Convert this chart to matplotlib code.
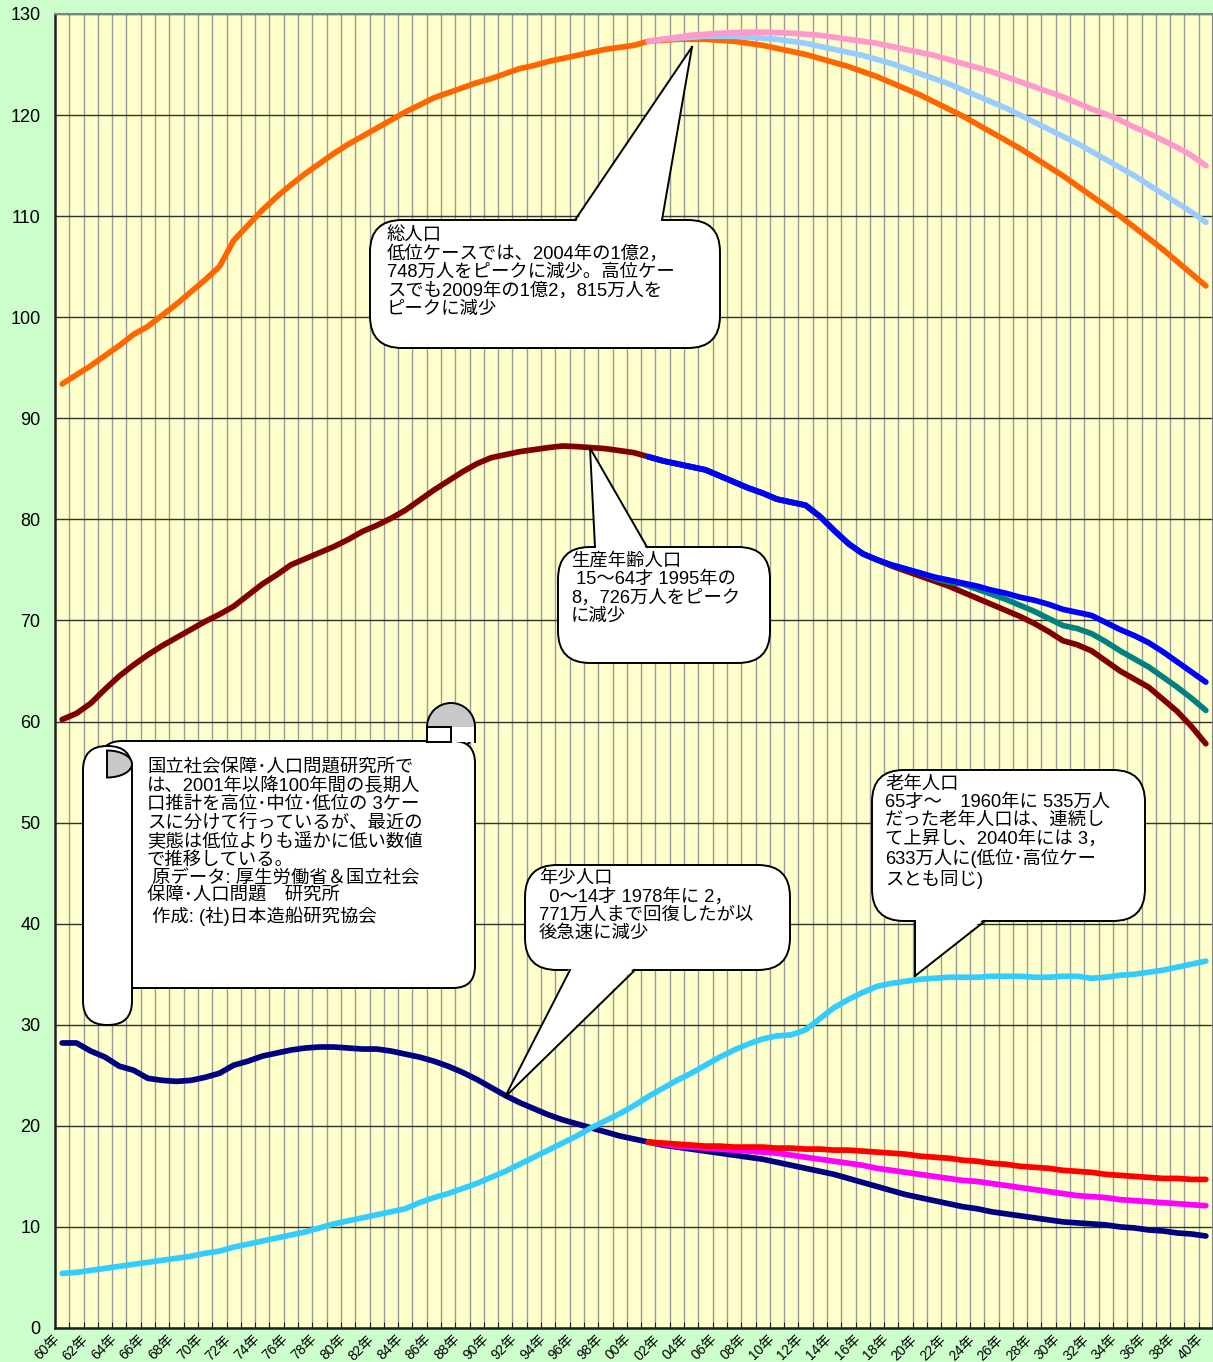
import matplotlib
matplotlib.use("Agg")
import numpy as np
import matplotlib.pyplot as plt
from matplotlib.patches import FancyBboxPatch, Polygon, Circle, Rectangle
from matplotlib.lines import Line2D
from matplotlib.transforms import Affine2D, ScaledTranslation

plt.rcParams['font.family'] = ['Liberation Sans', 'Noto Sans CJK JP', 'DejaVu Sans']

# ---------------- data (million persons) ----------------
years = list(range(1960, 2041))
actual_years = list(range(1960, 2002))
proj_years = list(range(2001, 2041))
tick_years = list(range(1960, 2041, 2))
tick_labels = [f"{y % 100:02d}年" for y in tick_years]

total_actual = [93.4, 94.3, 95.2, 96.2, 97.2, 98.3, 99.1, 100.2, 101.3, 102.5,
                103.7, 105.0, 107.6, 109.1, 110.6, 111.9, 113.1, 114.2, 115.2, 116.2,
                117.1, 117.9, 118.7, 119.5, 120.3, 121.0, 121.7, 122.2, 122.7, 123.2,
                123.6, 124.1, 124.6, 124.9, 125.3, 125.6, 125.9, 126.2, 126.5, 126.7,
                126.9, 127.3]
total_low = [127.3, 127.4, 127.5, 127.5, 127.5, 127.4, 127.3, 127.1, 126.9, 126.6,
             126.3, 126.0, 125.6, 125.2, 124.8, 124.3, 123.8, 123.2, 122.6, 122.0,
             121.3, 120.6, 119.9, 119.1, 118.3, 117.5, 116.7, 115.8, 114.9, 114.0,
             113.0, 112.0, 111.0, 110.0, 108.9, 107.8, 106.7, 105.5, 104.3, 103.1]
total_mid = [127.3, 127.5, 127.6, 127.7, 127.8, 127.8, 127.8, 127.7, 127.6, 127.5,
             127.3, 127.1, 126.8, 126.5, 126.2, 125.9, 125.5, 125.1, 124.6, 124.1,
             123.6, 123.1, 122.5, 121.9, 121.3, 120.7, 120.0, 119.3, 118.6, 117.9,
             117.2, 116.4, 115.6, 114.8, 114.0, 113.1, 112.2, 111.3, 110.4, 109.4]
total_high = [127.3, 127.5, 127.7, 127.9, 128.0, 128.1, 128.15, 128.2, 128.2, 128.15,
              128.1, 128.0, 127.9, 127.7, 127.5, 127.3, 127.1, 126.8, 126.5, 126.2,
              125.9, 125.5, 125.1, 124.7, 124.3, 123.8, 123.3, 122.8, 122.3, 121.8,
              121.2, 120.6, 120.1, 119.5, 118.8, 118.2, 117.5, 116.8, 116.0, 115.0]

working_actual = [60.2, 60.8, 61.8, 63.2, 64.5, 65.6, 66.6, 67.5, 68.3, 69.1,
                  69.9, 70.6, 71.4, 72.5, 73.6, 74.5, 75.5, 76.1, 76.7, 77.3,
                  78.0, 78.8, 79.4, 80.1, 80.9, 81.9, 82.9, 83.8, 84.7, 85.5,
                  86.1, 86.4, 86.7, 86.9, 87.1, 87.26, 87.2, 87.1, 87.0, 86.8,
                  86.6, 86.2]
working_high = [86.2, 85.8, 85.5, 85.2, 84.9, 84.3, 83.7, 83.1, 82.6, 82.0,
                81.7, 81.4, 80.3, 78.9, 77.6, 76.6, 76.0, 75.5, 75.1, 74.7,
                74.3, 74.0, 73.7, 73.4, 73.0, 72.7, 72.3, 72.0, 71.6, 71.1,
                70.8, 70.5, 69.8, 69.1, 68.5, 67.8, 66.9, 65.9, 64.9, 63.9]
working_mid = [86.2, 85.8, 85.5, 85.2, 84.9, 84.3, 83.7, 83.1, 82.6, 82.0,
               81.7, 81.4, 80.3, 78.9, 77.6, 76.6, 76.0, 75.5, 75.1, 74.7,
               74.2, 73.8, 73.6, 73.1, 72.6, 72.1, 71.5, 70.9, 70.2, 69.5,
               69.2, 68.7, 67.9, 67.0, 66.2, 65.4, 64.4, 63.4, 62.3, 61.1]
working_low = [86.2, 85.8, 85.5, 85.2, 84.9, 84.3, 83.7, 83.1, 82.6, 82.0,
               81.7, 81.4, 80.3, 78.9, 77.6, 76.6, 76.0, 75.4, 74.9, 74.4,
               73.9, 73.4, 72.8, 72.2, 71.6, 71.0, 70.4, 69.7, 68.9, 68.0,
               67.6, 67.0, 66.0, 65.0, 64.2, 63.4, 62.2, 61.0, 59.5, 57.8]

youth_actual = [28.2, 28.2, 27.4, 26.8, 25.9, 25.5, 24.7, 24.5, 24.4, 24.5,
                24.8, 25.2, 26.0, 26.4, 26.9, 27.2, 27.5, 27.7, 27.8, 27.8,
                27.7, 27.6, 27.6, 27.4, 27.1, 26.8, 26.4, 25.9, 25.3, 24.6,
                23.8, 23.0, 22.3, 21.7, 21.1, 20.6, 20.2, 19.8, 19.4, 19.0,
                18.7, 18.4]
youth_high = [18.4, 18.3, 18.2, 18.1, 18.0, 18.0, 17.9, 17.9, 17.9, 17.8,
              17.8, 17.7, 17.7, 17.6, 17.6, 17.5, 17.4, 17.3, 17.2, 17.0,
              16.9, 16.8, 16.6, 16.5, 16.3, 16.2, 16.0, 15.9, 15.8, 15.6,
              15.5, 15.4, 15.2, 15.1, 15.0, 14.9, 14.8, 14.8, 14.7, 14.7]
youth_mid = [18.4, 18.2, 18.0, 17.9, 17.8, 17.7, 17.6, 17.5, 17.4, 17.3,
             17.1, 16.9, 16.7, 16.5, 16.3, 16.1, 15.8, 15.6, 15.4, 15.2,
             15.0, 14.8, 14.6, 14.5, 14.3, 14.1, 13.9, 13.7, 13.5, 13.3,
             13.1, 13.0, 12.9, 12.7, 12.6, 12.5, 12.4, 12.3, 12.2, 12.1]
youth_low = [18.4, 18.1, 17.9, 17.7, 17.5, 17.3, 17.1, 16.9, 16.7, 16.4,
             16.1, 15.8, 15.5, 15.2, 14.8, 14.4, 14.0, 13.6, 13.2, 12.9,
             12.6, 12.3, 12.0, 11.8, 11.5, 11.3, 11.1, 10.9, 10.7, 10.5,
             10.4, 10.3, 10.2, 10.0, 9.9, 9.7, 9.6, 9.4, 9.3, 9.1]

elderly = [5.4, 5.5, 5.7, 5.9, 6.1, 6.3, 6.5, 6.7, 6.9, 7.1,
           7.4, 7.6, 8.0, 8.3, 8.6, 8.9, 9.2, 9.5, 9.9, 10.3,
           10.6, 10.9, 11.2, 11.5, 11.8, 12.4, 12.9, 13.3, 13.8, 14.3,
           14.9, 15.5, 16.2, 16.9, 17.6, 18.3, 19.0, 19.8, 20.5, 21.2,
           22.0, 22.9, 23.7, 24.5, 25.2, 26.0, 26.8, 27.5, 28.1, 28.6,
           28.9, 29.0, 29.5, 30.6, 31.7, 32.5, 33.2, 33.8, 34.1, 34.3,
           34.5, 34.6, 34.7, 34.7, 34.7, 34.8, 34.8, 34.8, 34.7, 34.7,
           34.8, 34.8, 34.6, 34.7, 34.9, 35.0, 35.2, 35.4, 35.7, 36.0,
           36.3]

# ---------------- figure ----------------
W, H = 1213, 1362
fig = plt.figure(figsize=(W / 100, H / 100), dpi=100)
fig.patch.set_facecolor('#CCFFCC')
ax = fig.add_axes([55 / W, 1 - 1328 / H, (1213 - 55) / W, (1328 - 14) / H])
ax.set_facecolor('#FFFFCC')

def xi(yrs):
    return [y - 1960 for y in yrs]

lw = 4.1
series = [
    (actual_years, total_actual, '#FF6600'),
    (proj_years, total_low, '#FF6600'),
    (proj_years, total_mid, '#99CCFF'),
    (proj_years, total_high, '#FF99CC'),
    (actual_years, working_actual, '#800000'),
    (proj_years, working_low, '#800000'),
    (proj_years, working_mid, '#008080'),
    (proj_years, working_high, '#0000FF'),
    (actual_years, youth_actual, '#000080'),
    (proj_years, youth_low, '#000080'),
    (proj_years, youth_mid, '#FF00FF'),
    (proj_years, youth_high, '#FF0000'),
    (years, elderly, '#33CCFF'),
]
for xs, ys, c in series:
    ax.plot(xi(xs), ys, color=c, lw=lw, solid_capstyle='round', solid_joinstyle='round', zorder=3)

ax.set_xlim(-0.5, len(years) - 0.5)
ax.set_ylim(0, 130)
ax.set_yticks(range(0, 131, 10))
ax.set_yticklabels([str(v) for v in range(0, 131, 10)], fontsize=13, family='Liberation Sans')
ax.set_xticks(xi(tick_years))
ax.set_xticks([k + 0.5 for k in range(len(years) - 1)], minor=True)
ax.set_xticklabels(tick_labels, rotation=45, ha='right', va='top', fontsize=10)
for lab in ax.get_xticklabels():
    lab.set_transform(lab.get_transform() + ScaledTranslation(-5 / 100, 0, fig.dpi_scale_trans))
ax.tick_params(axis='x', which='major', length=0, pad=3)
ax.tick_params(axis='x', which='minor', length=4, direction='in', color='black')
ax.tick_params(axis='y', length=0, pad=10.5)
ax.grid(axis='x', which='minor', color='#9A9A9A', lw=1.0, zorder=1)
ax.grid(axis='y', which='major', color='#303030', lw=1.0, zorder=1)
ax.set_axisbelow(True)
for s in ['left', 'bottom']:
    ax.spines[s].set_color('#202020')
    ax.spines[s].set_linewidth(1.8)
for s in ['top', 'right']:
    ax.spines[s].set_color('#808080')
    ax.spines[s].set_linewidth(1.5)

# ---------------- annotations (pixel coordinates, y downward) ----------------
PX = Affine2D().scale(1, -1).translate(0, H)
FS = 13.2
LS = 1.08
ELW = 1.4

def callout(x0, y0, x1, y1, base, tip, text, tx, ty, fs=FS):
    box = FancyBboxPatch((x0, y0), x1 - x0, y1 - y0,
                         boxstyle="round,pad=0,rounding_size=32",
                         fc='white', ec='black', lw=ELW, transform=PX, zorder=5)
    fig.add_artist(box)
    (bx0, by0), (bx1, by1) = base
    inward = 3 if by0 == y0 else -3
    wedge = Polygon([(bx0, by0 + inward), tip, (bx1, by1 + inward)], closed=True,
                    fc='white', ec='none', transform=PX, zorder=6)
    fig.add_artist(wedge)
    fig.add_artist(Line2D([bx0, tip[0]], [by0, tip[1]], color='black', lw=ELW, transform=PX, zorder=7))
    fig.add_artist(Line2D([bx1, tip[0]], [by1, tip[1]], color='black', lw=ELW, transform=PX, zorder=7))
    fig.text(tx, ty, text, transform=PX, fontsize=fs, va='top', ha='left',
             linespacing=LS, zorder=8)

callout(370, 220, 720, 348, ((575, 220), (662, 220)), (692, 47),
        "総人口\n低位ケースでは、2004年の1億2，\n748万人をピークに減少。高位ケー\nスでも2009年の1億2，815万人を\nピークに減少",
        387, 227)
callout(558, 547, 770, 663, ((595, 547), (647, 547)), (590, 448),
        "生産年齢人口\n 15～64才 1995年の\n8，726万人をピーク\nに減少",
        571, 553)
callout(525, 865, 790, 970, ((570, 970), (635, 970)), (505, 1097),
        "年少人口\n  0～14才 1978年に 2，\n771万人まで回復したが以\n後急速に減少",
        539, 870)
callout(872, 770, 1145, 921, ((915, 921), (985, 921)), (915, 976),
        "老年人口\n65才～　1960年に 535万人\nだった老年人口は、連続し\nて上昇し、2040年には 3，\n633万人に(低位･高位ケー\nスとも同じ)",
        885, 776)

# scroll note
ec = 'black'
GRAY = '#C8C8C8'
fig.add_artist(Circle((451, 727), 24, fc=GRAY, ec=ec, lw=ELW, transform=PX, zorder=5))
fig.add_artist(FancyBboxPatch((100, 741), 375, 247, boxstyle="round,pad=0,rounding_size=22",
                              fc='white', ec=ec, lw=ELW, transform=PX, zorder=5))
fig.add_artist(Rectangle((451, 727), 23.3, 15, fc='white', ec='none', transform=PX, zorder=5.5))
fig.add_artist(Rectangle((427, 727), 24, 15, fc='white', ec=ec, lw=ELW, transform=PX, zorder=5.6))
fig.add_artist(Line2D([475, 475], [727, 742], color=ec, lw=ELW, transform=PX, zorder=5.7))
fig.add_artist(FancyBboxPatch((83, 746), 49, 279, boxstyle="round,pad=0,rounding_size=24",
                              fc='white', ec=ec, lw=ELW, transform=PX, zorder=6))
t = np.linspace(-np.pi / 2, np.pi / 2, 40)
dpts = [(107 + 25 * np.cos(a), 764 + 13.5 * np.sin(a)) for a in t]
fig.add_artist(Polygon(dpts, closed=True, fc=GRAY, ec=ec, lw=ELW, transform=PX, zorder=7))

fig.text(147, 759,
         "国立社会保障･人口問題研究所で\nは、2001年以降100年間の長期人\n口推計を高位･中位･低位の 3ケー\nスに分けて行っているが、最近の\n実態は低位よりも遥かに低い数値\nで推移している。\n 原データ: 厚生労働省＆国立社会\n保障･人口問題　研究所\n 作成: (社)日本造船研究協会",
         transform=PX, fontsize=FS, va='top', ha='left', linespacing=LS, zorder=8)

fig.savefig("out.png", dpi=100, facecolor=fig.get_facecolor())
